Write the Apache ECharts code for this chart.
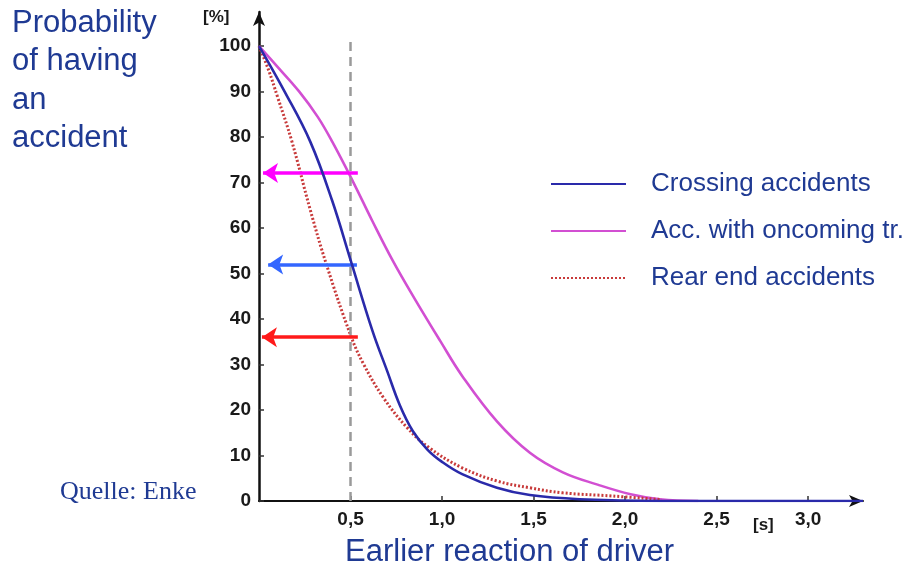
<!DOCTYPE html>
<html>
<head>
<meta charset="utf-8">
<script src="https://cdn.jsdelivr.net/npm/echarts@6/dist/echarts.min.js"></script>
<style>
html,body{margin:0;padding:0;background:#fff;}
#chart{width:909px;height:570px;}
</style>
</head>
<body>
<div id="chart"></div>
<script>
// ---- data ----
const seriesNames = ['Crossing accidents', 'Acc. with oncoming tr.', 'Rear end accidents'];

const crossingT = [0, 0.14, 0.28, 0.40, 0.50, 0.62, 0.70, 0.77, 0.84, 0.92, 1.00, 1.11, 1.30, 1.48, 1.75, 2.20, 3.30];
const crossingP = [100, 90, 79, 66, 53, 37.4, 28.6, 21, 15.4, 11.3, 8.6, 5.9, 2.9, 1.3, 0.4, 0, 0];

const oncomingT = [0, 0.10, 0.22, 0.32, 0.40, 0.51, 0.62, 0.73, 0.85, 0.99, 1.11, 1.30, 1.48, 1.66, 1.85, 2.03, 2.19, 2.40];
const oncomingP = [100, 95.5, 90, 84.5, 79, 70.5, 61.5, 52.9, 44.5, 35.2, 27.5, 17.5, 10.6, 6.3, 3.6, 1.5, 0.4, 0];

const rearT = [0, 0.05, 0.10, 0.18, 0.28, 0.37, 0.50, 0.57, 0.68, 0.81, 0.93, 1.11, 1.30, 1.48, 1.66, 1.93, 2.20];
const rearP = [100, 95, 89, 79, 64, 51.8, 36.5, 30.2, 22.7, 16.1, 11.7, 7.3, 4.4, 2.9, 1.8, 1.1, 0.3];

const yTicks = [0, 10, 20, 30, 40, 50, 60, 70, 80, 90, 100];
const xTicks = [0.5, 1.0, 1.5, 2.0, 2.5, 3.0];

const markerT = 0.5;                // dashed reference line at 0,5 s
const arrowFromT = [0.54, 0.535, 0.54];
const arrowToT = [0.022, 0.05, 0.016];
const arrowP = [72.1, 52.0, 36.0];
const arrowColors = ['#ff00ff', '#3366ff', '#ff1a1a'];

function pairs(t, p) { return t.map((v, i) => [v, p[i]]); }

const textBlue = '#1f3a93';

const chart = echarts.init(document.getElementById('chart'), null, {renderer: 'canvas'});

const arrowLines = arrowP.map((p, i) => [
  {coord: [arrowFromT[i], p], lineStyle: {color: arrowColors[i], width: 3.5, type: 'solid'}},
  {coord: [arrowToT[i], p]}
]);

const option = {
  animation: false,
  backgroundColor: '#ffffff',
  grid: {left: 259, right: 46, top: 12, bottom: 69, containLabel: false},
  xAxis: {
    type: 'value', min: 0, max: 3.3,
    axisLine: {show: true, symbol: ['none', 'arrow'], symbolSize: [9, 14], lineStyle: {color: '#111', width: 2}},
    axisTick: {show: true, inside: true, length: 5, customValues: xTicks, lineStyle: {color: '#333', width: 1.5}},
    axisLabel: {
      customValues: xTicks, margin: 9,
      fontFamily: 'Liberation Sans, Arial, sans-serif', fontWeight: 'bold', fontSize: 19, color: '#1a1a1a',
      formatter: v => v.toFixed(1).replace('.', ',')
    },
    splitLine: {show: false}
  },
  yAxis: {
    type: 'value', min: 0, max: 107.5,
    axisLine: {show: true, symbol: ['none', 'arrow'], symbolSize: [9, 14], lineStyle: {color: '#111', width: 2.5}},
    axisTick: {show: true, inside: true, length: 5, customValues: yTicks, lineStyle: {color: '#333', width: 1.5}},
    axisLabel: {
      customValues: yTicks, margin: 8,
      fontFamily: 'Liberation Sans, Arial, sans-serif', fontWeight: 'bold', fontSize: 19, color: '#1a1a1a'
    },
    splitLine: {show: false}
  },
  legend: {
    data: seriesNames,
    orient: 'vertical', left: 550, top: 171, padding: 0,
    itemWidth: 75, itemHeight: 20, itemGap: 21,
    itemStyle: {opacity: 0},
    textStyle: {fontFamily: 'Liberation Sans, Arial, sans-serif', fontSize: 26, color: textBlue, padding: [0, 0, 0, 20]},
    selectedMode: false
  },
  series: [
    {
      name: seriesNames[1], type: 'line', data: pairs(oncomingT, oncomingP),
      smooth: 0.4, symbol: 'none', z: 3,
      itemStyle: {color: '#d24fd2'},
      lineStyle: {color: '#d24fd2', width: 2.6}
    },
    {
      name: seriesNames[2], type: 'line', data: pairs(rearT, rearP),
      smooth: 0.4, symbol: 'none', z: 4,
      itemStyle: {color: '#c83a3a'},
      lineStyle: {color: '#c83a3a', width: 3, type: [2, 2]}
    },
    {
      name: seriesNames[0], type: 'line', data: pairs(crossingT, crossingP),
      smooth: 0.4, symbol: 'none', z: 5,
      itemStyle: {color: '#2a2aaa'},
      lineStyle: {color: '#2a2aaa', width: 2.6}
    },
    {
      name: 'ref', type: 'line', data: [], z: 2,
      markLine: {
        silent: true, symbol: ['none', 'none'], label: {show: false},
        lineStyle: {color: '#9a9a9a', width: 2.5, type: [9, 6]},
        data: [[{coord: [markerT, 0]}, {coord: [markerT, 101.5]}]]
      }
    },
    {
      name: 'arrows', type: 'line', data: [], z: 6,
      markLine: {
        silent: true, symbol: ['none', 'arrow'], symbolSize: 15, label: {show: false},
        data: arrowLines
      }
    }
  ],
  graphic: [
    {type: 'text', left: 12, top: 4, style: {text: 'Probability\nof having\nan\naccident', font: '31px "Liberation Sans", Arial, sans-serif', fill: textBlue, lineHeight: 38.5}},
    {type: 'text', left: 60, top: 479, style: {text: 'Quelle: Enke', font: '26px "Liberation Serif", "Times New Roman", serif', fill: textBlue}},
    {type: 'text', left: 345, top: 537, style: {text: 'Earlier reaction of driver', font: '31px "Liberation Sans", Arial, sans-serif', fill: textBlue}},
    {type: 'text', left: 203, top: 9, style: {text: '[%]', font: 'bold 17px "Liberation Sans", Arial, sans-serif', fill: '#1a1a1a'}},
    {type: 'text', left: 753, top: 517, style: {text: '[s]', font: 'bold 17px "Liberation Sans", Arial, sans-serif', fill: '#1a1a1a'}}
  ]
};
chart.setOption(option);
</script>
</body>
</html>
